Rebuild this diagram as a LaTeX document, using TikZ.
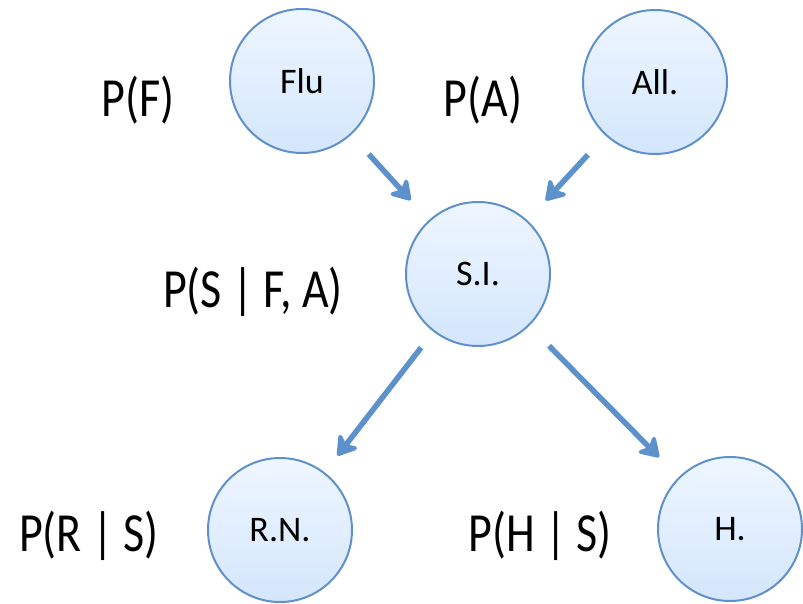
\documentclass[tikz,border=0pt]{standalone}
\usepackage{fontspec}
\setmainfont{Carlito}
\usetikzlibrary{arrows.meta}

\definecolor{ringblue}{RGB}{96,144,202}
\definecolor{filltop}{RGB}{238,246,255}
\definecolor{fillbottom}{RGB}{212,230,252}
\definecolor{arrowblue}{RGB}{92,145,203}

\tikzset{
  varnode/.style={circle, draw=ringblue, line width=2pt, minimum size=144pt,
    inner sep=0pt, top color=filltop, bottom color=fillbottom,
    font=\fontsize{36}{40}\selectfont},
  problabel/.style={anchor=base, inner sep=0pt, font=\fontsize{46}{50}\selectfont},
  link/.style={arrowblue, line width=5.5pt,
    -{Stealth[length=23pt, width=29pt, inset=7pt, round]},
    shorten <=26pt, shorten >=27pt}
}

\begin{document}
\begin{tikzpicture}[x=1pt, y=-1pt]
  \useasboundingbox (0,0) rectangle (803,603);

  % variables of the network
  \node[varnode] (flu) at (302,81)  {Flu};
  \node[varnode] (all) at (655,82)  {All.};
  \node[varnode] (si)  at (478,274) {S.I.};
  \node[varnode] (rn)  at (280,530) {R.N.};
  \node[varnode] (h)   at (730,529) {H.};

  % dependencies
  \draw[link] (flu) -- (si);
  \draw[link] (all) -- (si);
  \draw[link, shorten <=20pt, shorten >=21pt] (si) -- (rn);
  \draw[link, shorten <=28pt, shorten >=28pt] (si) -- (h);

  % probability tables
  \node[problabel] (pf)  at (138,116) {\scalebox{1}[1.2]{P(F)}};
  \node[problabel] (pa)  at (483,116) {\scalebox{1}[1.2]{P(A)}};
  \node[problabel] (psi) at (253,307) {\scalebox{1}[1.2]{P(S | F, A)}};
  \node[problabel] (pr)  at (89,551)  {\scalebox{1}[1.2]{P(R | S)}};
  \node[problabel] (ph)  at (540,551) {\scalebox{1}[1.2]{P(H | S)}};
\end{tikzpicture}
\end{document}
